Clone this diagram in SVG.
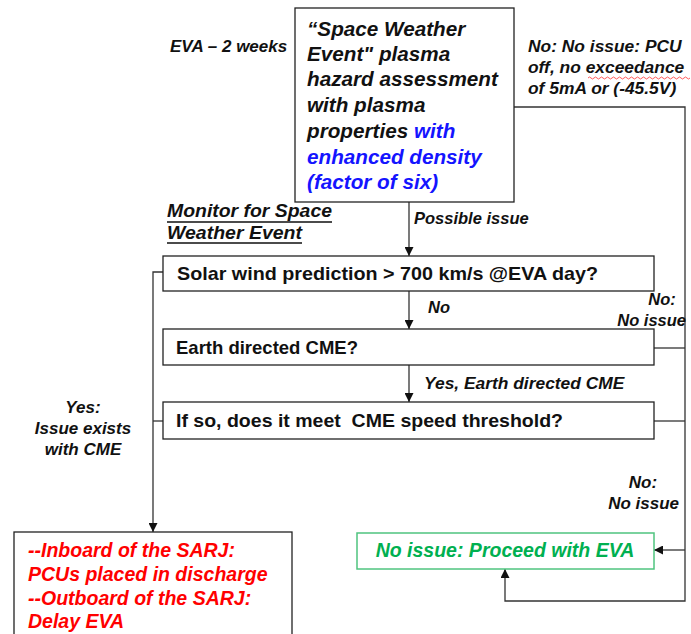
<svg xmlns="http://www.w3.org/2000/svg" width="691" height="634" viewBox="0 0 691 634">
<style>
text{font-family:"Liberation Sans",Arial,sans-serif;font-weight:bold;fill:#111}
.i{font-style:italic}
.box{fill:#fff;stroke:#222;stroke-width:1.3}
.ln{fill:none;stroke:#333;stroke-width:1.3}
.blue{fill:#1414ff}
.red{fill:#ff0000}
.grn{fill:#00b050}
</style>
<defs>
<marker id="ah" viewBox="0 0 10 10" refX="10" refY="5" markerWidth="9" markerHeight="9" markerUnits="userSpaceOnUse" orient="auto">
<path d="M0,0 L10,5 L0,10 Z" fill="#111"/>
</marker>
</defs>
<rect width="691" height="634" fill="#fff"/>

<g id="connectors">
<path class="ln" d="M409,202 V256" marker-end="url(#ah)"/>
<path class="ln" d="M409,291 V329" marker-end="url(#ah)"/>
<path class="ln" d="M409,365 V402" marker-end="url(#ah)"/>
<path class="ln" d="M514,107 H685 V601 H505 V569" marker-end="url(#ah)"/>
<path class="ln" d="M654,348 H685"/>
<path class="ln" d="M654,421 H685"/>
<path class="ln" d="M685,550 H654" marker-end="url(#ah)"/>
<path class="ln" d="M163,272 H153 V532" marker-end="url(#ah)"/>
<path class="ln" d="M163,421 H153"/>
</g>

<g id="assessment">
<rect class="box" x="295" y="8" width="219" height="194"/>
<text class="i" font-size="20.7" x="307" y="36">“Space Weather</text>
<text class="i" font-size="20.7" x="307" y="61">Event" plasma</text>
<text class="i" font-size="20.7" x="307" y="86">hazard assessment</text>
<text class="i" font-size="20.7" x="307" y="112">with plasma</text>
<text class="i" font-size="20.7" x="307" y="138">properties <tspan class="blue">with</tspan></text>
<text class="i blue" font-size="20.7" x="307" y="164">enhanced density</text>
<text class="i blue" font-size="20.7" x="307" y="189">(factor of six)</text>
</g>

<g id="label-eva">
<text class="i" font-size="17" x="170" y="52">EVA – 2 weeks</text>
</g>

<g id="label-no-pcu">
<text class="i" font-size="17.4" x="528" y="52">No: No issue: PCU</text>
<text class="i" font-size="17.4" x="528" y="73">off, no exceedance</text>
<text class="i" font-size="17.4" x="528" y="94">of 5mA or (-45.5V)</text>
<path d="M588,78 q1.5,-2 3,0 t3,0 t3,0 t3,0 t3,0 t3,0 t3,0 t3,0 t3,0 t3,0 t3,0 t3,0 t3,0 t3,0 t3,0 t3,0 t3,0 t3,0 t3,0 t3,0 t3,0 t3,0 t3,0 t3,0 t3,0 t3,0 t3,0 t3,0 t3,0 t3,0 t3,0 t3,0 t3,0 t3,0" fill="none" stroke="#ff3030" stroke-width="0.8"/>
</g>

<g id="label-monitor">
<text class="i" font-size="18" x="167" y="217" textLength="165" lengthAdjust="spacingAndGlyphs">Monitor for Space</text>
<text class="i" font-size="18" x="167" y="239" textLength="135" lengthAdjust="spacingAndGlyphs">Weather Event</text>
<path d="M167,222 H332 M167,243 H302" stroke="#111" stroke-width="1.3"/>
</g>

<g id="label-possible">
<text class="i" font-size="16.5" x="414" y="224">Possible issue</text>
</g>

<g id="solar">
<rect class="box" x="163" y="256" width="491" height="35"/>
<text font-size="19" x="177" y="280" textLength="421" lengthAdjust="spacingAndGlyphs">Solar wind prediction &gt; 700 km/s @EVA day?</text>
</g>

<g id="label-no1">
<text class="i" font-size="16.5" x="428" y="313">No</text>
</g>

<g id="label-no2">
<text class="i" font-size="16.5" x="662" y="305" text-anchor="middle">No:</text>
<text class="i" font-size="16.5" x="686" y="326" text-anchor="end">No issue</text>
</g>

<g id="earth">
<rect class="box" x="163" y="329" width="491" height="36"/>
<text font-size="18.5" x="176" y="354">Earth directed CME?</text>
</g>

<g id="label-yes-earth">
<text class="i" font-size="17.4" x="424" y="389">Yes, Earth directed CME</text>
</g>

<g id="cme">
<rect class="box" x="163" y="402" width="491" height="37"/>
<text font-size="18.5" x="176" y="427" xml:space="preserve" textLength="387" lengthAdjust="spacingAndGlyphs">If so, does it meet  CME speed threshold?</text>
</g>

<g id="label-yes-issue">
<text class="i" font-size="17" x="83" y="413" text-anchor="middle">Yes:</text>
<text class="i" font-size="17" x="83" y="434" text-anchor="middle">Issue exists</text>
<text class="i" font-size="17" x="83" y="455" text-anchor="middle">with CME</text>
</g>

<g id="label-no3">
<text class="i" font-size="17" x="643" y="488" text-anchor="middle">No:</text>
<text class="i" font-size="17" x="679" y="509" text-anchor="end">No issue</text>
</g>

<g id="action">
<rect class="box" x="14" y="532" width="278" height="110"/>
<text class="i red" font-size="19.5" x="28" y="557">--Inboard of the SARJ:</text>
<text class="i red" font-size="19.5" x="28" y="581">PCUs placed in discharge</text>
<text class="i red" font-size="19.5" x="28" y="605">--Outboard of the SARJ:</text>
<text class="i red" font-size="19.5" x="28" y="628">Delay EVA</text>
</g>

<g id="proceed">
<rect x="357" y="533" width="297" height="36" fill="#fff" stroke="#4fc47f" stroke-width="1.5"/>
<text class="i grn" font-size="19.5" x="505" y="557" text-anchor="middle">No issue: Proceed with EVA</text>
</g>
</svg>
